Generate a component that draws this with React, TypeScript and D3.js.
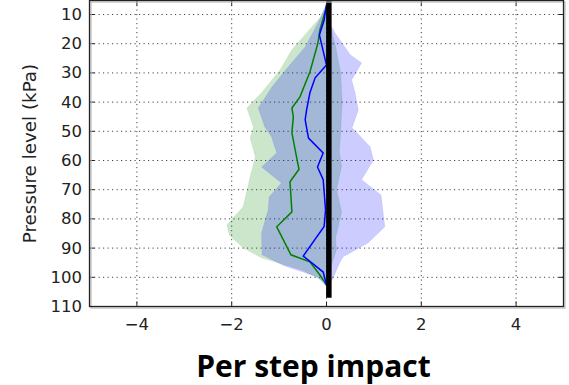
import React from "react";
import * as d3 from "d3";

// ---- data ----
const xTicks = [-4, -2, 0, 2, 4];
const yTicks = [10, 20, 30, 40, 50, 60, 70, 80, 90, 100, 110];

const greenMeanP = [6.5, 7.4, 15.3, 19.7, 29.7, 38.2, 42, 45, 50.5, 59.8, 63, 67.3, 77.6, 82.7, 92.3, 94.7, 99.2, 102.6];
const greenMeanX = [0.01, 0, -0.14, -0.18, -0.35, -0.56, -0.73, -0.7, -0.73, -0.62, -0.58, -0.77, -0.73, -1.05, -0.75, -0.35, -0.14, 0];

const blueMeanP = [6.5, 12, 17, 27.3, 31.7, 36.8, 42.7, 46, 52.3, 57.4, 62.2, 66.6, 76.9, 82.6, 92.7, 98.2, 102.6];
const blueMeanX = [0, -0.05, -0.15, 0, -0.24, -0.35, -0.42, -0.45, -0.38, -0.07, -0.19, -0.07, -0.02, -0.05, -0.49, -0.07, 0];

const greenLowP = [6.5, 10.8, 16.3, 22.1, 29, 36.8, 42, 48.5, 52.3, 58.8, 65.6, 75.9, 82, 85.5, 89.9, 93.4, 97.5, 101.9];
const greenLowX = [0, -0.12, -0.42, -0.73, -0.98, -1.37, -1.68, -1.54, -1.61, -1.5, -1.61, -1.76, -2.1, -2.05, -1.76, -1.36, -0.52, 0];
const greenHighP = [6.5, 12, 20, 30, 40, 50, 57, 62, 70, 77.6, 86.5, 90.6, 97, 101.9];
const greenHighX = [0, 0.05, 0.18, 0.3, 0.33, 0.3, 0.27, 0.32, 0.21, 0.32, 0.19, 0.21, 0.08, 0];

const blueLowP = [6.5, 8.4, 12.9, 21.1, 28, 34.8, 42, 48.5, 51.9, 57.4, 62.2, 67.7, 72.5, 76.9, 84.8, 92.3, 96.1, 99.9, 103.3];
const blueLowX = [0, -0.05, -0.18, -0.45, -0.81, -1.15, -1.44, -1.3, -1.16, -1.05, -1.37, -0.95, -1.21, -1.23, -1.37, -1.36, -0.88, -0.18, 0];
const blueHighP = [6.5, 11.8, 16.3, 23.8, 26.6, 32.4, 36.5, 42.7, 48.8, 55.3, 59.8, 66.6, 71.8, 82.7, 88.2, 93, 95, 100.2, 103.3];
const blueHighX = [0, 0.03, 0.18, 0.5, 0.74, 0.53, 0.6, 0.67, 0.54, 0.92, 0.99, 0.74, 1.15, 1.23, 0.88, 0.35, 0.28, 0.14, 0.04];

const zeroLineX = 0.05;
const zeroLineP = [5.2, 107];

// ---- layout ----
const W = 569, H = 385;
const x = d3.scaleLinear().domain([-5, 5]).range([89.5, 563.5]);
const y = d3.scaleLinear().domain([5.2, 110]).range([0.5, 306.5]);

type Pt = [number, number];
const zip = (xs: number[], ps: number[]): Pt[] => xs.map((v, i) => [v, ps[i]]);
const line = d3.line<Pt>().x((d) => x(d[0])).y((d) => y(d[1]));
const band = (lx: number[], lp: number[], hx: number[], hp: number[]) =>
  line([...zip(lx, lp), ...zip(hx, hp).reverse()]) + "Z";

export default function App() {
  const [x0, x1] = x.range();
  const [y0, y1] = y.range();
  const tickFont = "'DejaVu Sans', sans-serif";
  return (
    <svg width={W} height={H} style={{ position: "absolute", left: 0, top: 0, background: "#fff" }}>
      <defs>
        <filter id="blur" x="-200%" y="-10%" width="500%" height="120%">
          <feGaussianBlur stdDeviation="4" />
        </filter>
        <clipPath id="plot">
          <rect x={x0} y={y0} width={x1 - x0} height={y1 - y0} />
        </clipPath>
      </defs>
      {/* grid */}
      <g stroke="#444" strokeWidth={1} strokeDasharray="1.2,3.3">
        {xTicks.map((t) => (
          <line key={"gx" + t} x1={x(t)} x2={x(t)} y1={y0} y2={y1} />
        ))}
        {yTicks.map((t) => (
          <line key={"gy" + t} x1={x0} x2={x1} y1={y(t)} y2={y(t)} />
        ))}
      </g>
      <g clipPath="url(#plot)">
        <path d={band(greenLowX, greenLowP, greenHighX, greenHighP)} fill="rgb(0,128,0)" fillOpacity={0.2} stroke="rgb(0,128,0)" strokeOpacity={0.08} />
        <path d={band(blueLowX, blueLowP, blueHighX, blueHighP)} fill="rgb(0,0,255)" fillOpacity={0.2} stroke="rgb(0,0,255)" strokeOpacity={0.08} />
        <path d={line(zip(greenMeanX, greenMeanP)) || ""} fill="none" stroke="#008000" strokeWidth={1.5} />
        <path d={line(zip(blueMeanX, blueMeanP)) || ""} fill="none" stroke="#0000ff" strokeWidth={1.5} />
        {/* zero line with blurred shadow */}
        <line x1={x(zeroLineX)} x2={x(zeroLineX)} y1={y(zeroLineP[0])} y2={y(zeroLineP[1])} stroke="#000" strokeOpacity={0.35} strokeWidth={8} filter="url(#blur)" />
        <line x1={x(zeroLineX)} x2={x(zeroLineX)} y1={y(zeroLineP[0])} y2={y(zeroLineP[1])} stroke="#000" strokeWidth={5.5} />
      </g>
      {/* ticks inside */}
      <g stroke="#222" strokeWidth={1}>
        {xTicks.map((t) => (
          <g key={"tx" + t}>
            <line x1={x(t)} x2={x(t)} y1={y1} y2={y1 - 5} />
            <line x1={x(t)} x2={x(t)} y1={y0} y2={y0 + 5} />
          </g>
        ))}
        {yTicks.map((t) => (
          <g key={"ty" + t}>
            <line x1={x0} x2={x0 + 5} y1={y(t)} y2={y(t)} />
            <line x1={x1} x2={x1 - 5} y1={y(t)} y2={y(t)} />
          </g>
        ))}
      </g>
      {/* frame with slight shadow */}
      <rect x={x0 + 1.5} y={y0 + 1.5} width={x1 - x0} height={y1 - y0} fill="none" stroke="#bbb" strokeWidth={1.2} />
      <rect x={x0} y={y0} width={x1 - x0} height={y1 - y0} fill="none" stroke="#222" strokeWidth={1.3} />
      {/* tick labels */}
      <g fontFamily={tickFont} fontSize={16.5} fill="#222">
        {xTicks.map((t) => (
          <text key={"lx" + t} x={x(t)} y={330} textAnchor="middle">
            {t < 0 ? "\u2212" + Math.abs(t) : String(t)}
          </text>
        ))}
        {yTicks.map((t) => (
          <text key={"ly" + t} x={82} y={y(t)} textAnchor="end" dominantBaseline="central">
            {t}
          </text>
        ))}
      </g>
      <text
        transform={`translate(36,${(y0 + y1) / 2}) rotate(-90)`}
        textAnchor="middle"
        fontFamily={tickFont}
        fontSize={18.3}
        fill="#222"
      >
        Pressure level (kPa)
      </text>
      <text x={313.5} y={377} textAnchor="middle" fontFamily="'Open Sans', Lato, sans-serif" fontWeight="bold" fontSize={30} fill="#000">
        Per step impact
      </text>
    </svg>
  );
}
